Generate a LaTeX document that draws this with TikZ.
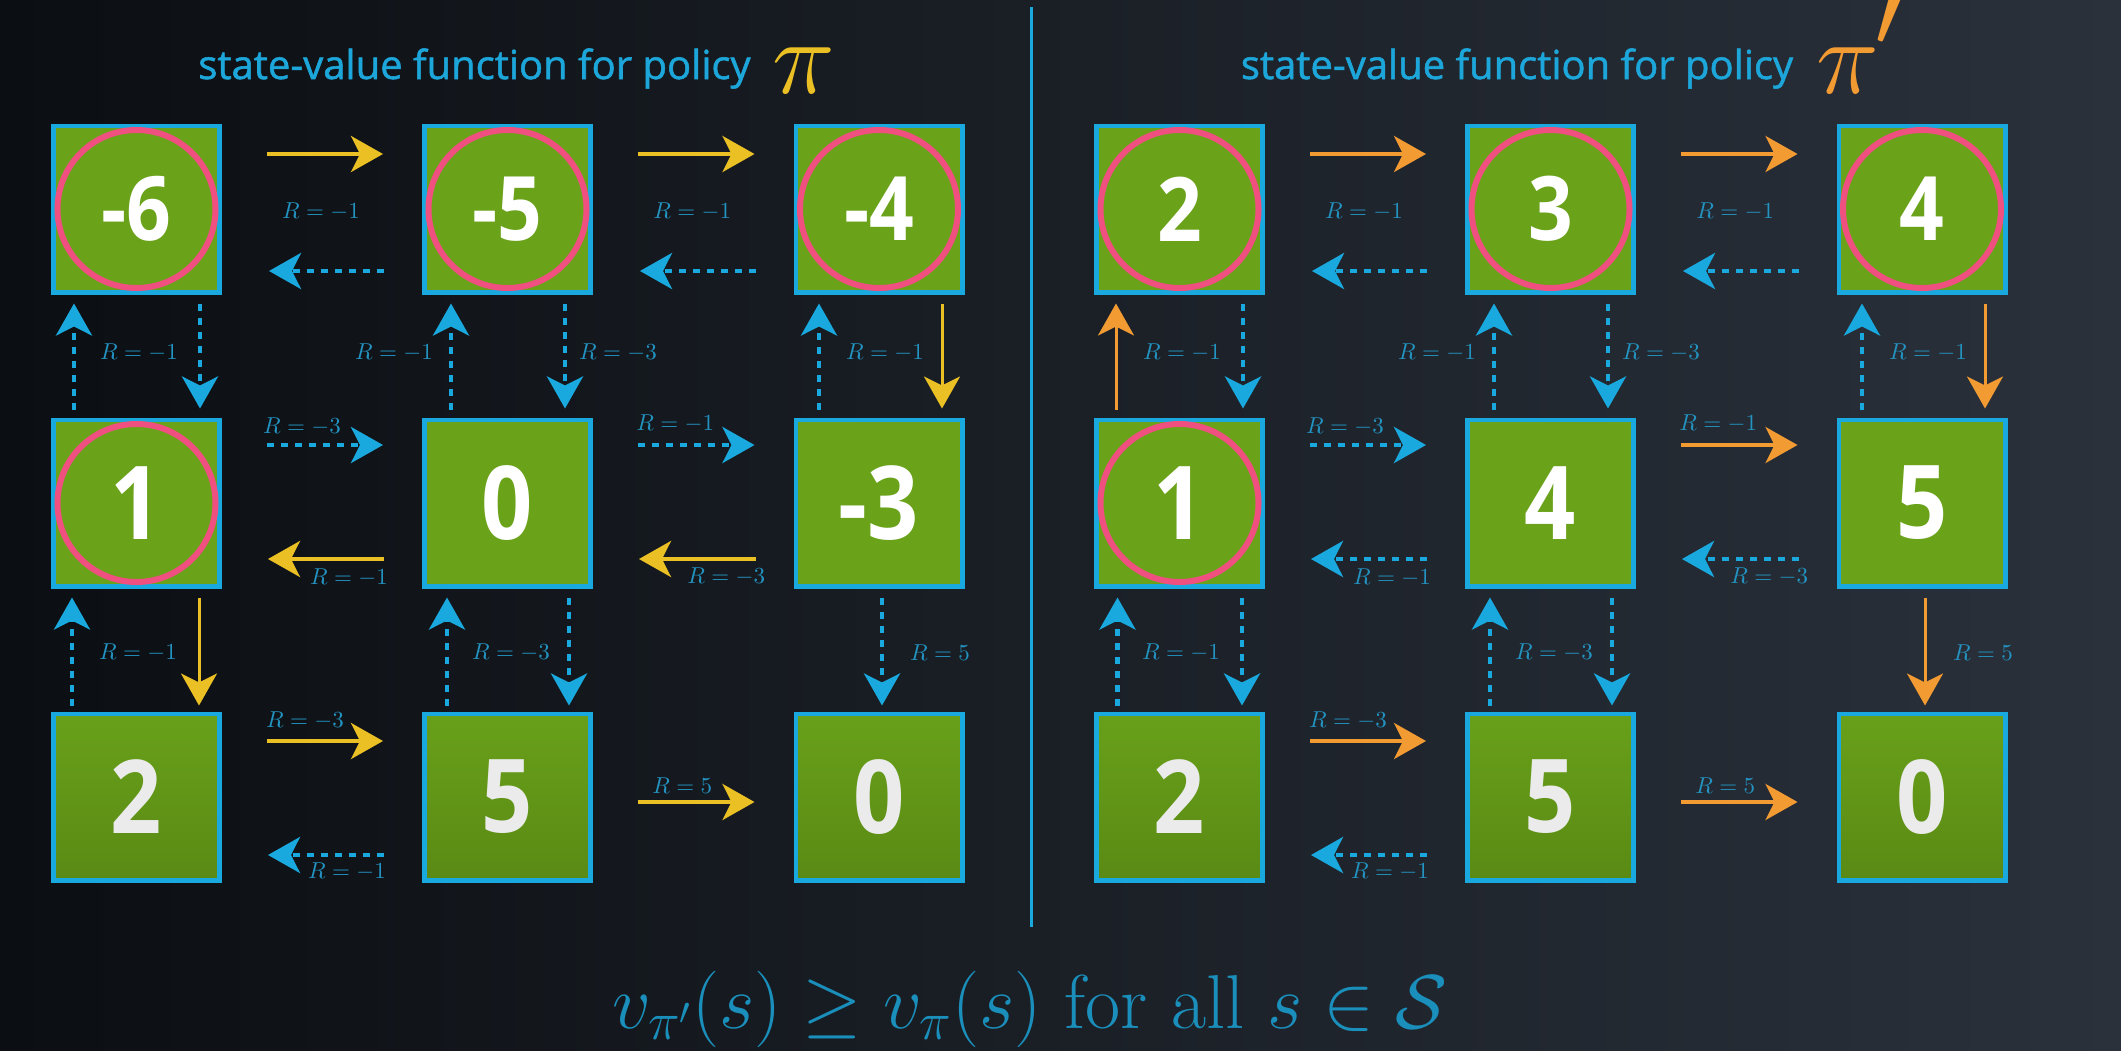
\RequirePackage{fix-cm}
\documentclass[tikz,border=0pt]{standalone}
\usepackage{fontspec}
\usetikzlibrary{arrows.meta,calc}
\newfontfamily\ttlfont{Open Sans}[FakeBold=1.3]
\newfontfamily\numfont{Open Sans}[FakeStretch=0.88]
\definecolor{bgL}{HTML}{0B0E12}
\definecolor{bgR}{HTML}{2A313B}
\definecolor{cyan1}{HTML}{1AA9DE}
\definecolor{lblc}{HTML}{2394C2}
\definecolor{ttlc}{HTML}{1CA6DA}
\definecolor{yel}{HTML}{EBC024}
\definecolor{org}{HTML}{F39B33}
\definecolor{grn}{HTML}{6AA21A}
\definecolor{grnT}{HTML}{68A01A}
\definecolor{grnB}{HTML}{5A8A14}
\definecolor{pnk}{HTML}{F0507F}
\definecolor{eqc}{HTML}{1B8FBB}
\tikzset{
  box/.style={draw=cyan1, line width=2.4pt, fill=grn, minimum size=83.1pt, inner sep=0pt, text=white},
  boxA/.style={box, font=\numfont\bfseries\fontsize{44.5}{44.5}\selectfont},
  boxB/.style={box, font=\numfont\bfseries\fontsize{51}{51}\selectfont},
  boxC/.style={box, top color=grnT, bottom color=grnB, text=white!92!black, font=\numfont\bfseries\fontsize{51}{51}\selectfont},
  ring/.style={draw=pnk, line width=3pt},
  arr/.style={-{Stealth[length=16pt,width=18pt,inset=4.5pt]}},
  pol/.style={arr, line width=2pt, draw=#1},
  polv/.style={arr, line width=1.5pt, draw=#1},
  dsh/.style={arr, line width=2.2pt, draw=cyan1, dash pattern=on 3.5pt off 3.5pt},
  lbl/.style={text=lblc, inner sep=0pt, font=\fontsize{11.5}{12}\selectfont},
  ttl/.style={text=ttlc, inner sep=0pt, font=\ttlfont\fontsize{20}{24}\selectfont},
  pisym/.style={inner sep=0pt, font=\fontsize{53}{53}\selectfont}
}
\begin{document}
\begin{tikzpicture}[x=0.5pt, y=-0.5pt]
\useasboundingbox (0,0) rectangle (2121,1050);
\shade[left color=bgL, right color=bgR] (0,0) rectangle (2121,1050);
% divider
\coordinate (dtop) at (1031,7);
\coordinate (dbot) at (1031,927);
\draw[cyan1, line width=1.5pt] (dtop) -- (dbot);
% titles
\node[ttl, anchor=base] (t1) at (474.5,79) {state-value function for policy};
\node[pisym, anchor=base, text=yel] (p1) at (804,93) {$\pi$};
\node[ttl, anchor=base] (t2) at (1517,79) {state-value function for policy};
\node[pisym, anchor=base, text=org] (p2) at (1848,93) {$\pi$};
\node[inner sep=0pt, anchor=south west, text=org, font=\fontsize{62}{62}\selectfont] (p2p) at (1874,48) {$\prime$};
% ===== left panel boxes =====
\node[boxA] (L11) at (136.5,209) {-6};
\node[boxA] (L12) at (507.5,209) {-5};
\node[boxA] (L13) at (879,209) {-4};
\node[boxB] (L21) at (136.5,503) {1};
\node[boxB] (L22) at (507.5,503) {0};
\node[boxB] (L23) at (879,503) {-3};
\node[boxC] (L31) at (136.5,797) {2};
\node[boxC] (L32) at (507.5,797) {5};
\node[boxC] (L33) at (879,797) {0};
\draw[ring] (L11.center) circle[radius=79];
\draw[ring] (L12.center) circle[radius=79];
\draw[ring] (L13.center) circle[radius=79];
\draw[ring] (L21.center) circle[radius=79];
% ===== right panel boxes =====
\node[boxA] (R11) at (1179.5,209) {2};
\node[boxA] (R12) at (1550.5,209) {3};
\node[boxA] (R13) at (1922,209) {4};
\node[boxB] (R21) at (1179.5,503) {1};
\node[boxB] (R22) at (1550.5,503) {4};
\node[boxB] (R23) at (1922,503) {5};
\node[boxC] (R31) at (1179.5,797) {2};
\node[boxC] (R32) at (1550.5,797) {5};
\node[boxC] (R33) at (1922,797) {0};
\draw[ring] (R11.center) circle[radius=79];
\draw[ring] (R12.center) circle[radius=79];
\draw[ring] (R13.center) circle[radius=79];
\draw[ring] (R21.center) circle[radius=79];

% ===== left panel arrows =====
% row 1
\draw[pol=yel] ([shift={(45,-55)}]L11.east) -- ([shift={(-39,-55)}]L12.west);
\draw[dsh] ([shift={(-38,62)}]L12.west) -- ([shift={(47,62)}]L11.east);
\node[lbl] (la1) at ($(L11)!0.5!(L12)+(-1,3)$) {$R=-1$};
\draw[pol=yel] ([shift={(45,-55)}]L12.east) -- ([shift={(-39,-55)}]L13.west);
\draw[dsh] ([shift={(-38,62)}]L13.west) -- ([shift={(47,62)}]L12.east);
\node[lbl] (la2) at ($(L12)!0.5!(L13)+(-1,3)$) {$R=-1$};
% rows 1-2 vertical
\draw[dsh] ([shift={(-62.5,-8)}]L21.north) -- ([shift={(-62.5,9)}]L11.south);
\draw[dsh] ([shift={(63.5,9)}]L11.south) -- ([shift={(63.5,-9)}]L21.north);
\node[lbl] (la3) at ($(L11)!0.5!(L21)+(2.5,-3)$) {$R=-1$};
\draw[dsh] ([shift={(-56.5,-8)}]L22.north) -- ([shift={(-56.5,9)}]L12.south);
\draw[dsh] ([shift={(57.5,9)}]L12.south) -- ([shift={(57.5,-9)}]L22.north);
\node[lbl] (la4) at ($(L12)!0.5!(L22)+(-113.5,-3)$) {$R=-1$};
\node[lbl] (la5) at ($(L12)!0.5!(L22)+(110.5,-3)$) {$R=-3$};
\draw[dsh] ([shift={(-60,-8)}]L23.north) -- ([shift={(-60,9)}]L13.south);
\draw[polv=yel] ([shift={(63,9)}]L13.south) -- ([shift={(63,-9)}]L23.north);
\node[lbl] (la6) at ($(L13)!0.5!(L23)+(6,-3)$) {$R=-1$};
% row 2
\draw[dsh] ([shift={(45,-58)}]L21.east) -- ([shift={(-39,-58)}]L22.west);
\node[lbl] (la7) at ($(L21)!0.5!(L22)+(-20,-76)$) {$R=-3$};
\draw[pol=yel] ([shift={(-38,56)}]L22.west) -- ([shift={(46,56)}]L21.east);
\node[lbl] (la8) at ($(L21)!0.5!(L22)+(27,75)$) {$R=-1$};
\draw[dsh] ([shift={(45,-58)}]L22.east) -- ([shift={(-39,-58)}]L23.west);
\node[lbl] (la9) at ($(L22)!0.5!(L23)+(-18,-79)$) {$R=-1$};
\draw[pol=yel] ([shift={(-38,56)}]L23.west) -- ([shift={(46,56)}]L22.east);
\node[lbl] (la10) at ($(L22)!0.5!(L23)+(33,74)$) {$R=-3$};
% rows 2-3 vertical
\draw[dsh] ([shift={(-64.5,-6)}]L31.north) -- ([shift={(-64.5,9)}]L21.south);
\draw[polv=yel] ([shift={(62.5,9)}]L21.south) -- ([shift={(62.5,-6)}]L31.north);
\node[lbl] (la11) at ($(L21)!0.5!(L31)+(1.5,3)$) {$R=-1$};
\draw[dsh] ([shift={(-60.5,-6)}]L32.north) -- ([shift={(-60.5,9)}]L22.south);
\draw[dsh] ([shift={(61.5,9)}]L22.south) -- ([shift={(61.5,-6)}]L32.north);
\node[lbl] (la12) at ($(L22)!0.5!(L32)+(3.5,3)$) {$R=-3$};
\draw[dsh] ([shift={(3,9)}]L23.south) -- ([shift={(3,-6)}]L33.north);
\node[lbl] (la13) at ($(L23)!0.5!(L33)+(61,3)$) {$R=5$};
% row 3
\draw[pol=yel] ([shift={(45,-56)}]L31.east) -- ([shift={(-39,-56)}]L32.west);
\node[lbl] (la14) at ($(L31)!0.5!(L32)+(-17,-76)$) {$R=-3$};
\draw[dsh] ([shift={(-38,58)}]L32.west) -- ([shift={(46,58)}]L31.east);
\node[lbl] (la15) at ($(L31)!0.5!(L32)+(25,75)$) {$R=-1$};
\draw[pol=yel] ([shift={(45,5)}]L32.east) -- ([shift={(-39,5)}]L33.west);
\node[lbl] (la16) at ($(L32)!0.5!(L33)+(-11,-11)$) {$R=5$};

% ===== right panel arrows =====
% row 1
\draw[pol=org] ([shift={(45,-55)}]R11.east) -- ([shift={(-39,-55)}]R12.west);
\draw[dsh] ([shift={(-38,62)}]R12.west) -- ([shift={(47,62)}]R11.east);
\node[lbl] (ra1) at ($(R11)!0.5!(R12)+(-1,3)$) {$R=-1$};
\draw[pol=org] ([shift={(45,-55)}]R12.east) -- ([shift={(-39,-55)}]R13.west);
\draw[dsh] ([shift={(-38,62)}]R13.west) -- ([shift={(47,62)}]R12.east);
\node[lbl] (ra2) at ($(R12)!0.5!(R13)+(-1,3)$) {$R=-1$};
% rows 1-2 vertical
\draw[polv=org] ([shift={(-63.5,-8)}]R21.north) -- ([shift={(-63.5,9)}]R11.south);
\draw[dsh] ([shift={(63.5,9)}]R11.south) -- ([shift={(63.5,-9)}]R21.north);
\node[lbl] (ra3) at ($(R11)!0.5!(R21)+(2.5,-3)$) {$R=-1$};
\draw[dsh] ([shift={(-56.5,-8)}]R22.north) -- ([shift={(-56.5,9)}]R12.south);
\draw[dsh] ([shift={(57.5,9)}]R12.south) -- ([shift={(57.5,-9)}]R22.north);
\node[lbl] (ra4) at ($(R12)!0.5!(R22)+(-113.5,-3)$) {$R=-1$};
\node[lbl] (ra5) at ($(R12)!0.5!(R22)+(110.5,-3)$) {$R=-3$};
\draw[dsh] ([shift={(-60,-8)}]R23.north) -- ([shift={(-60,9)}]R13.south);
\draw[polv=org] ([shift={(63,9)}]R13.south) -- ([shift={(63,-9)}]R23.north);
\node[lbl] (ra6) at ($(R13)!0.5!(R23)+(6,-3)$) {$R=-1$};
% row 2
\draw[dsh] ([shift={(45,-58)}]R21.east) -- ([shift={(-39,-58)}]R22.west);
\node[lbl] (ra7) at ($(R21)!0.5!(R22)+(-20,-76)$) {$R=-3$};
\draw[dsh] ([shift={(-38,56)}]R22.west) -- ([shift={(46,56)}]R21.east);
\node[lbl] (ra8) at ($(R21)!0.5!(R22)+(27,75)$) {$R=-1$};
\draw[pol=org] ([shift={(45,-58)}]R22.east) -- ([shift={(-39,-58)}]R23.west);
\node[lbl] (ra9) at ($(R22)!0.5!(R23)+(-18,-79)$) {$R=-1$};
\draw[dsh] ([shift={(-38,56)}]R23.west) -- ([shift={(46,56)}]R22.east);
\node[lbl] (ra10) at ($(R22)!0.5!(R23)+(33,74)$) {$R=-3$};
% rows 2-3 vertical
\draw[dsh] ([shift={(-62,-6)}]R31.north) -- ([shift={(-62,9)}]R21.south);
\draw[dsh] ([shift={(62.5,9)}]R21.south) -- ([shift={(62.5,-6)}]R31.north);
\node[lbl] (ra11) at ($(R21)!0.5!(R31)+(1.5,3)$) {$R=-1$};
\draw[dsh] ([shift={(-60.5,-6)}]R32.north) -- ([shift={(-60.5,9)}]R22.south);
\draw[dsh] ([shift={(61.5,9)}]R22.south) -- ([shift={(61.5,-6)}]R32.north);
\node[lbl] (ra12) at ($(R22)!0.5!(R32)+(3.5,3)$) {$R=-3$};
\draw[polv=org] ([shift={(3,9)}]R23.south) -- ([shift={(3,-6)}]R33.north);
\node[lbl] (ra13) at ($(R23)!0.5!(R33)+(61,3)$) {$R=5$};
% row 3
\draw[pol=org] ([shift={(45,-56)}]R31.east) -- ([shift={(-39,-56)}]R32.west);
\node[lbl] (ra14) at ($(R31)!0.5!(R32)+(-17,-76)$) {$R=-3$};
\draw[dsh] ([shift={(-38,58)}]R32.west) -- ([shift={(46,58)}]R31.east);
\node[lbl] (ra15) at ($(R31)!0.5!(R32)+(25,75)$) {$R=-1$};
\draw[pol=org] ([shift={(45,5)}]R32.east) -- ([shift={(-39,5)}]R33.west);
\node[lbl] (ra16) at ($(R32)!0.5!(R33)+(-11,-11)$) {$R=5$};

% bottom statement
\node[anchor=base, inner sep=0pt, text=eqc, font=\fontsize{38.2}{40}\selectfont] (eq) at (1030,1028)
  {$v_{\pi'}(s) \geq v_{\pi}(s)$ for all $s \in \mathcal{S}$};
\end{tikzpicture}
\end{document}
